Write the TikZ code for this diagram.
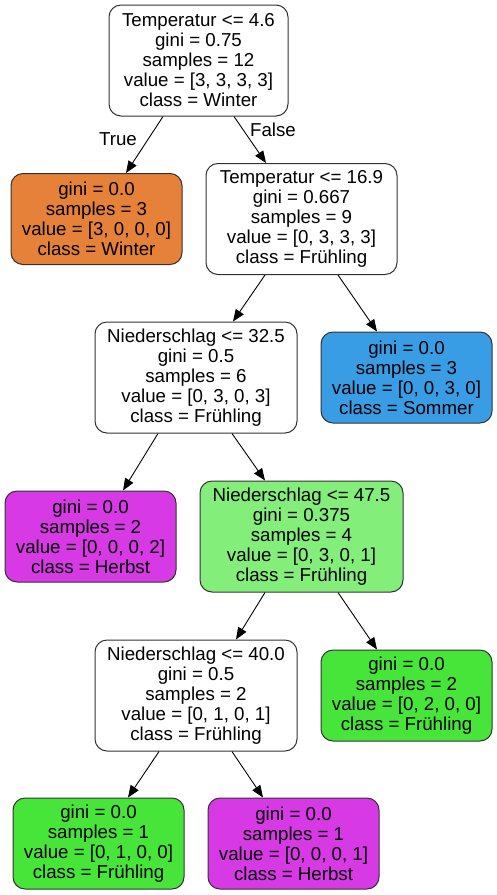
\documentclass[tikz,border=0pt]{standalone}
\usepackage{fontspec}
\setmainfont{Liberation Sans}
\usetikzlibrary{arrows.meta}
\definecolor{cwinter}{HTML}{E58139}
\definecolor{cfrue}{HTML}{47E539}
\definecolor{csommer}{HTML}{399DE5}
\definecolor{cherbst}{HTML}{D739E5}
\definecolor{cfruelight}{HTML}{84EE7B}
\definecolor{bordergray}{HTML}{333333}
\tikzset{
  tree/.style={draw=bordergray, line width=1pt, rounded corners=12pt, inner sep=0pt, align=center,
    font=\fontsize{18.7}{20}\selectfont},
  inner/.style={tree, minimum height=111pt},
  leaf/.style={tree, minimum height=91pt},
  edge/.style={draw=black, line width=0.9pt, -{Triangle[length=12pt,width=9.5pt]}},
  elabel/.style={font=\fontsize{18.7}{20}\selectfont, inner sep=0pt}
}
\begin{document}
\begin{tikzpicture}[x=1pt,y=-1pt]
\useasboundingbox[fill=white] (0,0) rectangle (497,895);
\node[inner, fill=white, minimum width=179pt] (root) at (198.5,60.5) {Temperatur <= 4.6\\gini = 0.75\\samples = 12\\value = [3, 3, 3, 3]\\class = Winter};
\node[leaf, fill=cwinter, minimum width=171pt] (winter) at (96.5,219) {gini = 0.0\\samples = 3\\value = [3, 0, 0, 0]\\class = Winter};
\node[inner, fill=white, minimum width=191pt] (t169) at (301.5,219) {Temperatur <= 16.9\\gini = 0.667\\samples = 9\\value = [0, 3, 3, 3]\\class = Frühling};
\node[inner, fill=white, minimum width=202pt] (n325) at (196,377.5) {Niederschlag <= 32.5\\gini = 0.5\\samples = 6\\value = [0, 3, 0, 3]\\class = Frühling};
\node[leaf, fill=csommer, minimum width=171pt] (sommer) at (406.5,377.5) {gini = 0.0\\samples = 3\\value = [0, 0, 3, 0]\\class = Sommer};
\node[leaf, fill=cherbst, minimum width=171pt] (herbst1) at (90.5,536.5) {gini = 0.0\\samples = 2\\value = [0, 0, 0, 2]\\class = Herbst};
\node[inner, fill=cfruelight, minimum width=203pt] (n475) at (301.5,536.5) {Niederschlag <= 47.5\\gini = 0.375\\samples = 4\\value = [0, 3, 0, 1]\\class = Frühling};
\node[inner, fill=white, minimum width=202pt] (n400) at (196,695.5) {Niederschlag <= 40.0\\gini = 0.5\\samples = 2\\value = [0, 1, 0, 1]\\class = Frühling};
\node[leaf, fill=cfrue, minimum width=171pt] (fr2) at (406.5,695.5) {gini = 0.0\\samples = 2\\value = [0, 2, 0, 0]\\class = Frühling};
\node[leaf, fill=cfrue, minimum width=171pt] (bl) at (98.5,843.5) {gini = 0.0\\samples = 1\\value = [0, 1, 0, 0]\\class = Frühling};
\node[leaf, fill=cherbst, minimum width=171pt] (br) at (293.5,843.5) {gini = 0.0\\samples = 1\\value = [0, 0, 0, 1]\\class = Herbst};

\draw[edge] ([xshift=-35.5pt]root.south) -- ([xshift=29.5pt]winter.north);
\draw[edge] ([xshift=35.5pt]root.south) -- ([xshift=-35.5pt]t169.north);
\draw[edge] ([xshift=-36.5pt]t169.south) -- ([xshift=37pt]n325.north);
\draw[edge] ([xshift=36.5pt]t169.south) -- ([xshift=-29.5pt]sommer.north);
\draw[edge] ([xshift=-38pt]n325.south) -- ([xshift=32.5pt]herbst1.north);
\draw[edge] ([xshift=36pt]n325.south) -- ([xshift=-36.5pt]n475.north);
\draw[edge] ([xshift=-36.5pt]n475.south) -- ([xshift=40pt]n400.north);
\draw[edge] ([xshift=36.5pt]n475.south) -- ([xshift=-29.5pt]fr2.north);
\draw[edge] ([xshift=-37pt]n400.south) -- ([xshift=29.5pt]bl.north);
\draw[edge] ([xshift=36pt]n400.south) -- ([xshift=-30.5pt]br.north);

\node[elabel] (ltrue) at (118,139) {True};
\node[elabel] (lfalse) at (273,130) {False};
\end{tikzpicture}
\end{document}
